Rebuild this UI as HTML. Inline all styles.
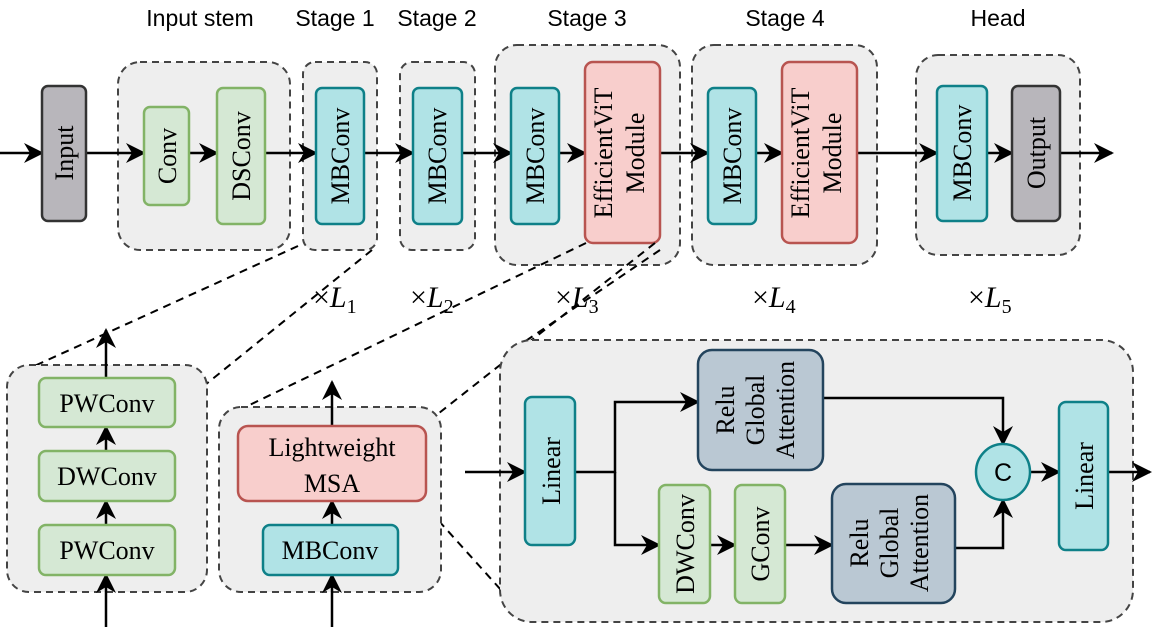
<!DOCTYPE html>
<html><head><meta charset="utf-8"><style>
html,body{margin:0;padding:0;background:#fff;}
svg{display:block;}
.t{font-family:"Liberation Serif",serif;font-size:26px;fill:#000;}
.h{font-family:"Liberation Sans",sans-serif;font-size:23px;fill:#000;}
.g{fill:#eeeeee;stroke:#444;stroke-width:2;stroke-dasharray:7,5;}
.gr{fill:#d5e8d4;stroke:#82b366;stroke-width:2.5;}
.tl{fill:#b0e3e6;stroke:#0e8088;stroke-width:2.5;}
.rd{fill:#f8cecc;stroke:#b85450;stroke-width:2.5;}
.gy{fill:#b8b6bb;stroke:#333;stroke-width:2.5;}
.bl{fill:#bac8d3;stroke:#23445d;stroke-width:2.5;}
.ln{stroke:#000;stroke-width:2.5;fill:none;}
.dl{stroke:#000;stroke-width:2;stroke-dasharray:8,6;fill:none;}
</style></head><body>
<svg width="1163" height="627" viewBox="0 0 1163 627" xmlns="http://www.w3.org/2000/svg">
<defs>
<marker id="a" viewBox="0 0 20 20" refX="18" refY="10" markerWidth="20" markerHeight="20" markerUnits="userSpaceOnUse" orient="auto">
<path d="M0,0 L20,10 L0,20 L6,10 Z" fill="#000"/></marker>
</defs>
<!-- titles -->
<text class="h" x="200" y="26" text-anchor="middle">Input stem</text>
<text class="h" x="335" y="26" text-anchor="middle">Stage 1</text>
<text class="h" x="437" y="26" text-anchor="middle">Stage 2</text>
<text class="h" x="587" y="26" text-anchor="middle">Stage 3</text>
<text class="h" x="785" y="26" text-anchor="middle">Stage 4</text>
<text class="h" x="998" y="26" text-anchor="middle">Head</text>
<!-- groups top -->
<rect class="g" x="118" y="62" width="172" height="188" rx="22"/>
<rect class="g" x="303" y="62" width="74" height="188" rx="12"/>
<rect class="g" x="400" y="62" width="75" height="188" rx="12"/>
<rect class="g" x="495" y="45" width="185" height="220" rx="22"/>
<rect class="g" x="692" y="45" width="185" height="220" rx="22"/>
<rect class="g" x="916" y="55" width="164" height="200" rx="22"/>
<!-- lines top -->
<line class="ln" x1="0" y1="153" x2="42" y2="153" marker-end="url(#a)"/>
<line class="ln" x1="86" y1="153" x2="144" y2="153" marker-end="url(#a)"/>
<line class="ln" x1="189" y1="153" x2="217" y2="153" marker-end="url(#a)"/>
<line class="ln" x1="265" y1="153" x2="316" y2="153" marker-end="url(#a)"/>
<line class="ln" x1="364" y1="153" x2="413" y2="153" marker-end="url(#a)"/>
<line class="ln" x1="462" y1="153" x2="511" y2="153" marker-end="url(#a)"/>
<line class="ln" x1="559" y1="153" x2="585" y2="153" marker-end="url(#a)"/>
<line class="ln" x1="660" y1="153" x2="708" y2="153" marker-end="url(#a)"/>
<line class="ln" x1="756" y1="153" x2="782" y2="153" marker-end="url(#a)"/>
<line class="ln" x1="857" y1="153" x2="937" y2="153" marker-end="url(#a)"/>
<line class="ln" x1="987" y1="153" x2="1012" y2="153" marker-end="url(#a)"/>
<line class="ln" x1="1060" y1="153" x2="1112" y2="153" marker-end="url(#a)"/>
<!-- boxes top -->
<rect class="gy" x="42" y="86" width="44" height="135" rx="6"/>
<text class="t" transform="translate(73,153) rotate(-90)" text-anchor="middle">Input</text>
<rect class="gr" x="144" y="107" width="45" height="98" rx="6"/>
<text class="t" transform="translate(176,156) rotate(-90)" text-anchor="middle">Conv</text>
<rect class="gr" x="217" y="88" width="48" height="136" rx="6"/>
<text class="t" transform="translate(250,156) rotate(-90)" text-anchor="middle">DSConv</text>
<rect class="tl" x="316" y="88" width="48" height="136" rx="6"/>
<text class="t" transform="translate(349,156) rotate(-90)" text-anchor="middle">MBConv</text>
<rect class="tl" x="413" y="88" width="49" height="136" rx="6"/>
<text class="t" transform="translate(446,156) rotate(-90)" text-anchor="middle">MBConv</text>
<rect class="tl" x="511" y="88" width="48" height="136" rx="6"/>
<text class="t" transform="translate(544,156) rotate(-90)" text-anchor="middle">MBConv</text>
<rect class="rd" x="585" y="62" width="75" height="181" rx="8"/>
<text class="t" transform="translate(612,153) rotate(-90)" text-anchor="middle">EfficientViT</text>
<text class="t" transform="translate(644,153) rotate(-90)" text-anchor="middle">Module</text>
<rect class="tl" x="708" y="88" width="48" height="136" rx="6"/>
<text class="t" transform="translate(741,156) rotate(-90)" text-anchor="middle">MBConv</text>
<rect class="rd" x="782" y="62" width="75" height="181" rx="8"/>
<text class="t" transform="translate(809,153) rotate(-90)" text-anchor="middle">EfficientViT</text>
<text class="t" transform="translate(841,153) rotate(-90)" text-anchor="middle">Module</text>
<rect class="tl" x="937" y="86" width="50" height="135" rx="6"/>
<text class="t" transform="translate(971,153) rotate(-90)" text-anchor="middle">MBConv</text>
<rect class="gy" x="1012" y="86" width="48" height="135" rx="6"/>
<text class="t" transform="translate(1045,153) rotate(-90)" text-anchor="middle">Output</text>
<!-- dashed connectors -->
<line class="dl" x1="298" y1="246" x2="30" y2="368"/>
<line class="dl" x1="372" y1="250" x2="205" y2="385"/>
<line class="dl" x1="586" y1="243" x2="235" y2="412"/>
<line class="dl" x1="655" y1="243" x2="420" y2="428"/>
<line class="dl" x1="660" y1="250" x2="505" y2="355"/>
<line class="dl" x1="420" y1="500" x2="510" y2="600"/>
<!-- xL labels -->
<g font-family="Liberation Serif,serif" font-size="30">
<text x="313" y="307">×<tspan font-style="italic">L</tspan><tspan font-size="20" dy="6">1</tspan></text>
<text x="410" y="307">×<tspan font-style="italic">L</tspan><tspan font-size="20" dy="6">2</tspan></text>
<text x="555" y="307">×<tspan font-style="italic">L</tspan><tspan font-size="20" dy="6">3</tspan></text>
<text x="752" y="307">×<tspan font-style="italic">L</tspan><tspan font-size="20" dy="6">4</tspan></text>
<text x="968" y="307">×<tspan font-style="italic">L</tspan><tspan font-size="20" dy="6">5</tspan></text>
</g>
<!-- bottom left -->
<rect class="g" x="7" y="365" width="200" height="227" rx="22"/>
<line class="ln" x1="106" y1="378" x2="106" y2="330" marker-end="url(#a)"/>
<line class="ln" x1="106" y1="451" x2="106" y2="427" marker-end="url(#a)"/>
<line class="ln" x1="106" y1="525" x2="106" y2="501" marker-end="url(#a)"/>
<line class="ln" x1="106" y1="627" x2="106" y2="575" marker-end="url(#a)"/>
<rect class="gr" x="39" y="378" width="136" height="49" rx="7"/>
<text class="t" x="107" y="412" text-anchor="middle">PWConv</text>
<rect class="gr" x="39" y="451" width="136" height="50" rx="7"/>
<text class="t" x="107" y="485" text-anchor="middle">DWConv</text>
<rect class="gr" x="39" y="525" width="136" height="50" rx="7"/>
<text class="t" x="107" y="559" text-anchor="middle">PWConv</text>
<!-- bottom middle -->
<rect class="g" x="219" y="407" width="222" height="185" rx="22"/>
<line class="ln" x1="332" y1="426" x2="332" y2="382" marker-end="url(#a)"/>
<line class="ln" x1="332" y1="525" x2="332" y2="501" marker-end="url(#a)"/>
<line class="ln" x1="332" y1="627" x2="332" y2="575" marker-end="url(#a)"/>
<rect class="rd" x="238" y="426" width="188" height="75" rx="10"/>
<text class="t" x="332" y="456" text-anchor="middle">Lightweight</text>
<text class="t" x="332" y="492" text-anchor="middle">MSA</text>
<rect class="tl" x="263" y="525" width="135" height="50" rx="7"/>
<text class="t" x="330" y="559" text-anchor="middle">MBConv</text>
<!-- right group -->
<rect class="g" x="500" y="340" width="633" height="282" rx="32"/>
<line class="ln" x1="465" y1="472" x2="525" y2="472" marker-end="url(#a)"/>
<polyline class="ln" points="575,472 615,472 615,402 698,402" marker-end="url(#a)"/>
<polyline class="ln" points="615,472 615,545 659,545" marker-end="url(#a)"/>
<line class="ln" x1="710" y1="545" x2="735" y2="545" marker-end="url(#a)"/>
<line class="ln" x1="785" y1="545" x2="832" y2="545" marker-end="url(#a)"/>
<polyline class="ln" points="823,398 1003,398 1003,444" marker-end="url(#a)"/>
<polyline class="ln" points="955,548 1003,548 1003,500" marker-end="url(#a)"/>
<line class="ln" x1="1030" y1="472" x2="1059" y2="472" marker-end="url(#a)"/>
<line class="ln" x1="1108" y1="472" x2="1150" y2="472" marker-end="url(#a)"/>
<rect class="tl" x="525" y="397" width="50" height="148" rx="7"/>
<text class="t" transform="translate(560,471) rotate(-90)" text-anchor="middle">Linear</text>
<rect class="bl" x="698" y="350" width="125" height="120" rx="14"/>
<text class="t" transform="translate(734,410) rotate(-90)" text-anchor="middle">Relu</text>
<text class="t" transform="translate(764,410) rotate(-90)" text-anchor="middle">Global</text>
<text class="t" transform="translate(794,410) rotate(-90)" text-anchor="middle">Attention</text>
<rect class="gr" x="659" y="485" width="51" height="118" rx="7"/>
<text class="t" transform="translate(694,544) rotate(-90)" text-anchor="middle">DWConv</text>
<rect class="gr" x="735" y="485" width="50" height="118" rx="7"/>
<text class="t" transform="translate(769,544) rotate(-90)" text-anchor="middle">GConv</text>
<rect class="bl" x="832" y="484" width="123" height="119" rx="14"/>
<text class="t" transform="translate(868,543) rotate(-90)" text-anchor="middle">Relu</text>
<text class="t" transform="translate(898,543) rotate(-90)" text-anchor="middle">Global</text>
<text class="t" transform="translate(928,543) rotate(-90)" text-anchor="middle">Attention</text>
<ellipse cx="1003" cy="472" rx="27" ry="28" class="tl"/>
<text x="1003" y="481" text-anchor="middle" font-family="Liberation Sans,sans-serif" font-size="25">C</text>
<rect class="tl" x="1059" y="402" width="49" height="148" rx="7"/>
<text class="t" transform="translate(1093,476) rotate(-90)" text-anchor="middle">Linear</text>
</svg>
</body></html>
